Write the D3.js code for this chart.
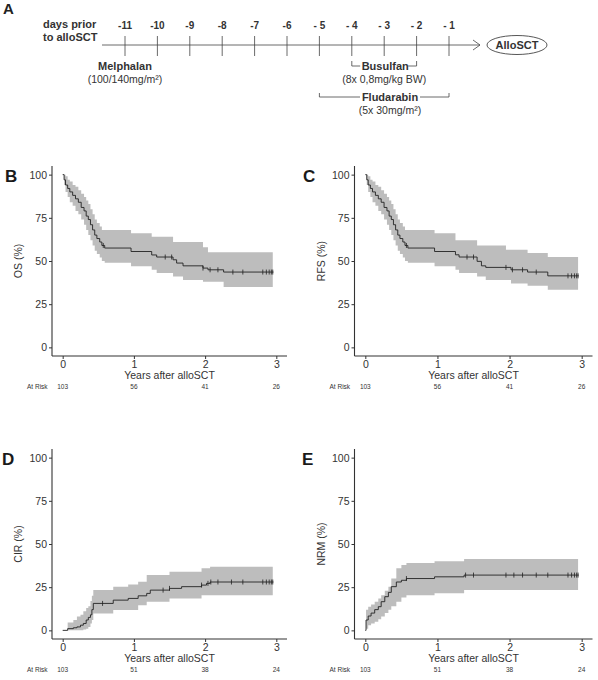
<!DOCTYPE html>
<meta charset="utf-8">
<script src="https://d3js.org/d3.v7.min.js"></script>
<style>
  body { margin: 0; background: #fff; }
  text { font-family: "Liberation Sans", Arial, sans-serif; fill: #333; }
</style>
<div id="chart"></div>
<script>
// ---- data ----
var days = [-11, -10, -9, -8, -7, -6, -5, -4, -3, -2, -1];
var dayLabels = ["-11", "-10", "-9", "-8", "-7", "-6", "- 5", "- 4", "- 3", "- 2", "- 1"];

var yTicks = [0, 25, 50, 75, 100];
var xTicks = [0, 1, 2, 3];

// OS (B)
var osTime  = [0, 0.02, 0.04, 0.07, 0.10, 0.14, 0.18, 0.22, 0.26, 0.30, 0.33, 0.36, 0.39, 0.42, 0.45, 0.48, 0.52, 0.55, 0.59, 0.96, 1.25, 1.32, 1.55, 1.60, 1.69, 1.97, 2.04, 2.26, 2.96];
var osSurv  = [100, 97, 94, 92, 90, 88, 86, 84, 81, 79, 76, 74, 71, 68, 65, 63, 61, 59, 57.5, 55.5, 53.5, 52.3, 50.7, 48.8, 47.2, 45.9, 44.9, 43.6, 43.6];
var osLower = [100, 94, 90, 87, 84, 82, 79, 77, 74, 71, 68, 65, 62, 59, 56, 54, 52, 50, 49, 47, 45, 43, 41, 41, 39, 38, 38, 35, 35];
var osUpper = [100, 100, 99, 97, 96, 94, 93, 91, 89, 87, 85, 83, 80, 77, 74, 72, 70, 68, 68, 66, 64, 64, 61, 61, 61, 58, 55, 55, 55];
var osCensor = [0.57, 1.44, 1.53, 1.97, 2.07, 2.18, 2.39, 2.53, 2.81, 2.86, 2.90, 2.93, 2.95];
var osRisk = [103, 56, 41, 26];

// RFS (C)
var rfsTime  = [0, 0.02, 0.04, 0.07, 0.10, 0.14, 0.18, 0.22, 0.26, 0.30, 0.33, 0.36, 0.39, 0.42, 0.45, 0.48, 0.52, 0.55, 0.59, 0.96, 1.25, 1.30, 1.55, 1.61, 1.67, 1.95, 2.02, 2.25, 2.53, 2.96];
var rfsSurv  = [100, 97, 94, 92, 90, 88, 86, 84, 81, 79, 76, 74, 71, 68, 65, 63, 61, 59, 57.5, 55.5, 53.6, 52.3, 49.8, 47.2, 46.3, 46.3, 44.9, 43.6, 41.4, 41.4];
var rfsLower = [100, 94, 90, 87, 84, 82, 79, 77, 74, 71, 68, 65, 62, 59, 56, 54, 52, 50, 49, 47, 45, 43, 41, 41, 39, 39, 37, 35.6, 33.3, 33.3];
var rfsUpper = [100, 100, 99, 97, 96, 94, 93, 91, 89, 87, 85, 83, 80, 77, 74, 72, 70, 68, 68, 66, 62, 62, 59, 59, 59, 56.5, 56.5, 54.6, 52.3, 52.3];
var rfsCensor = [0.57, 1.41, 1.50, 1.95, 2.04, 2.18, 2.37, 2.81, 2.86, 2.90, 2.93, 2.95];
var rfsRisk = [103, 56, 41, 26];

// CIR (D)
var cirTime  = [0, 0.07, 0.15, 0.20, 0.25, 0.29, 0.33, 0.36, 0.39, 0.41, 0.43, 0.71, 0.92, 1.06, 1.18, 1.23, 1.50, 1.67, 1.95, 2.02, 2.07, 2.96];
var cirEst   = [0, 1, 1.5, 2, 3, 4, 6, 7.5, 9, 12, 15.6, 17.5, 18.5, 20, 21.4, 23.3, 24.3, 25.3, 26.2, 27.2, 28, 28];
var cirLower = [0, 0, 0, 0, 0, 0.5, 1, 2, 4, 6, 9.8, 11.8, 11.8, 14.6, 16.6, 16.6, 18.5, 18.5, 20.4, 20.4, 20.4, 20.4];
var cirUpper = [0, 4.5, 6, 8, 9, 11, 13, 14, 17, 20, 23.3, 25.3, 26.6, 28.2, 32, 32, 34, 34, 36, 36, 36.8, 36.8];
var cirCensor = [0.56, 1.41, 1.50, 1.95, 2.04, 2.08, 2.18, 2.37, 2.53, 2.81, 2.86, 2.90, 2.93, 2.95];
var cirRisk = [103, 51, 38, 24];

// NRM (E)
var nrmTime  = [0, 0.01, 0.04, 0.08, 0.13, 0.18, 0.22, 0.27, 0.32, 0.36, 0.43, 0.50, 0.57, 0.96, 1.37, 2.96];
var nrmEst   = [0, 6, 8.3, 10, 12, 13.7, 16.6, 19.5, 22, 25.3, 28, 29, 30, 31, 32, 32];
var nrmLower = [0, 1, 3, 4, 5, 6.5, 8, 10, 12, 14, 16.6, 19, 20.4, 21.5, 23.3, 23.3];
var nrmUpper = [0, 12, 13.7, 15, 16.6, 18.5, 20.4, 23, 25.3, 30, 36, 37.8, 39, 40, 41.3, 41.3];
var nrmCensor = [0.57, 1.39, 1.50, 1.95, 2.06, 2.18, 2.37, 2.53, 2.81, 2.86, 2.90, 2.93, 2.95];
var nrmRisk = [103, 51, 38, 24];

var svg = d3.select("#chart").append("svg")
    .attr("width", 598)
    .attr("height", 680);

// ---- panel A: conditioning timeline ----
var dx = d3.scaleLinear().domain([-11, -1]).range([125, 449]);
var lineY = 45;
var ink = "#444";

svg.append("text").attr("x", 3).attr("y", 14)
    .style("font-size", "15px").style("font-weight", "bold").style("fill", "#222").text("A");

svg.append("text").attr("x", 43).attr("y", 28)
    .style("font-size", "11px").style("font-weight", "bold").text("days prior");
svg.append("text").attr("x", 43).attr("y", 41)
    .style("font-size", "11px").style("font-weight", "bold").text("to alloSCT");

svg.append("line").attr("x1", 102).attr("x2", 480).attr("y1", lineY).attr("y2", lineY)
    .attr("stroke", ink).attr("stroke-width", 0.8);
svg.append("path").attr("d", "M473,40 L480,45 L473,50")
    .attr("fill", "none").attr("stroke", ink).attr("stroke-width", 0.8);

svg.selectAll(".dayTick").data(days).enter().append("line")
    .attr("x1", function(d) { return dx(d); }).attr("x2", function(d) { return dx(d); })
    .attr("y1", 36).attr("y2", 56)
    .attr("stroke", ink).attr("stroke-width", 0.8);
svg.selectAll(".dayLabel").data(days).enter().append("text")
    .attr("x", function(d) { return dx(d); }).attr("y", 29)
    .attr("text-anchor", "middle")
    .style("font-size", "10px").style("font-weight", "bold")
    .text(function(d, i) { return dayLabels[i]; });

// Melphalan
svg.append("text").attr("x", dx(-11)).attr("y", 70).attr("text-anchor", "middle")
    .style("font-size", "11px").style("font-weight", "bold").text("Melphalan");
svg.append("text").attr("x", dx(-11)).attr("y", 83).attr("text-anchor", "middle")
    .style("font-size", "10.5px").text("(100/140mg/m²)");

// Busulfan bracket
var bx1 = dx(-4), bx2 = dx(-2), bmid = (bx1 + bx2) / 2;
svg.append("path")
    .attr("d", "M" + bx1 + ",61 V66 H" + (bmid - 24) + " M" + (bmid + 24) + ",66 H" + bx2 + " V61")
    .attr("fill", "none").attr("stroke", ink).attr("stroke-width", 0.8);
svg.append("text").attr("x", bmid + 1).attr("y", 70).attr("text-anchor", "middle")
    .style("font-size", "11px").style("font-weight", "bold").text("Busulfan");
svg.append("text").attr("x", bmid).attr("y", 83).attr("text-anchor", "middle")
    .style("font-size", "10.5px").text("(8x 0,8mg/kg BW)");

// Fludarabin bracket
var fx1 = dx(-5), fx2 = dx(-1), fmid = 390;
svg.append("path")
    .attr("d", "M" + fx1 + ",93 V97 H" + (fmid - 30) + " M" + (fmid + 30) + ",97 H" + fx2 + " V93")
    .attr("fill", "none").attr("stroke", ink).attr("stroke-width", 0.8);
svg.append("text").attr("x", fmid).attr("y", 101).attr("text-anchor", "middle")
    .style("font-size", "11px").style("font-weight", "bold").text("Fludarabin");
svg.append("text").attr("x", fmid).attr("y", 114).attr("text-anchor", "middle")
    .style("font-size", "10.5px").text("(5x 30mg/m²)");

// AlloSCT ellipse
svg.append("ellipse").attr("cx", 517).attr("cy", lineY).attr("rx", 30).attr("ry", 9.5)
    .attr("fill", "none").attr("stroke", ink).attr("stroke-width", 0.9);
svg.append("text").attr("x", 517).attr("y", lineY + 4).attr("text-anchor", "middle")
    .style("font-size", "11px").style("font-weight", "bold").text("AlloSCT");

// ---- survival / incidence panels ----
function panel(o) {
    var x = d3.scaleLinear().domain([-0.15, 3.15]).range([o.left, o.left + o.width]);
    var y = d3.scaleLinear().domain([-5, 105]).range([o.top + 190, o.top]);
    var g = svg.append("g");

    g.append("text").attr("x", o.letterX).attr("y", o.top + 16)
        .style("font-size", "17px").style("font-weight", "bold").style("fill", "#1a1a1a")
        .text(o.letter);

    var rows = o.time.map(function(t, i) {
        return {t: t, v: o.est[i], lo: o.lower[i], hi: o.upper[i]};
    });

    var band = d3.area().curve(d3.curveStepAfter)
        .x(function(d) { return x(d.t); })
        .y0(function(d) { return y(d.lo); })
        .y1(function(d) { return y(d.hi); });
    g.append("path").datum(rows.slice(0, rows.length - 1).concat([{t: 2.95, v: 0,
            lo: rows[rows.length - 1].lo, hi: rows[rows.length - 1].hi}]))
        .attr("d", band).attr("fill", "#bdbdbd");

    var line = d3.line().curve(d3.curveStepAfter)
        .x(function(d) { return x(d.t); })
        .y(function(d) { return y(d.v); });
    g.append("path").datum(rows).attr("d", line)
        .attr("fill", "none").attr("stroke", "#222").attr("stroke-width", 0.9);

    var bis = d3.bisector(function(d) { return d.t; }).right;
    g.selectAll(".cens").data(o.censor).enter().append("line")
        .attr("x1", function(d) { return x(d); }).attr("x2", function(d) { return x(d); })
        .attr("y1", function(d) { return y(rows[bis(rows, d) - 1].v) - 2.5; })
        .attr("y2", function(d) { return y(rows[bis(rows, d) - 1].v) + 2.5; })
        .attr("stroke", "#222").attr("stroke-width", 0.8);

    // axes
    var xAxis = g.append("g").attr("transform", "translate(0," + (o.top + 190) + ")")
        .call(d3.axisBottom(x).tickValues(xTicks).tickSize(3).tickPadding(2).tickFormat(d3.format("d")));
    var yAxis = g.append("g").attr("transform", "translate(" + o.left + ",0)")
        .call(d3.axisLeft(y).tickValues(yTicks).tickSize(3).tickPadding(2));
    [xAxis, yAxis].forEach(function(a) {
        a.select(".domain").attr("stroke", "#333").attr("stroke-width", 1.1)
            .attr("d", a === xAxis ? "M" + o.left + ",0H" + (o.left + o.width)
                                   : "M0," + (o.top + 190) + "V" + o.top);
        a.selectAll(".tick line").attr("stroke", "#333");
        a.selectAll(".tick text").style("font-size", "10.5px").style("fill", "#333")
            .style("font-family", "'Liberation Sans', Arial, sans-serif");
    });

    g.append("text")
        .attr("transform", "translate(" + (o.left - 30) + "," + y(50) + ") rotate(-90)")
        .attr("text-anchor", "middle").style("font-size", "10.5px").text(o.ylab);

    g.append("text").attr("x", (x(0) + x(3)) / 2).attr("y", o.top + 213)
        .attr("text-anchor", "middle").style("font-size", "10.5px").text("Years after alloSCT");

    g.append("text").attr("x", o.left - 25).attr("y", o.top + 223)
        .style("font-size", "6.5px").text("At Risk");
    g.selectAll(".risk").data(o.risk).enter().append("text")
        .attr("x", function(d, i) { return x(xTicks[i]); }).attr("y", o.top + 223)
        .attr("text-anchor", "middle").style("font-size", "6.5px")
        .text(function(d) { return d; });
}

panel({letter: "B", letterX: 5, left: 52, top: 166, width: 235, ylab: "OS (%)",
       time: osTime, est: osSurv, lower: osLower, upper: osUpper, censor: osCensor, risk: osRisk});
panel({letter: "C", letterX: 303, left: 354.5, top: 166, width: 238, ylab: "RFS (%)",
       time: rfsTime, est: rfsSurv, lower: rfsLower, upper: rfsUpper, censor: rfsCensor, risk: rfsRisk});
panel({letter: "D", letterX: 2, left: 52, top: 449, width: 235, ylab: "CIR (%)",
       time: cirTime, est: cirEst, lower: cirLower, upper: cirUpper, censor: cirCensor, risk: cirRisk});
panel({letter: "E", letterX: 302, left: 354.5, top: 449, width: 238, ylab: "NRM (%)",
       time: nrmTime, est: nrmEst, lower: nrmLower, upper: nrmUpper, censor: nrmCensor, risk: nrmRisk});
</script>
